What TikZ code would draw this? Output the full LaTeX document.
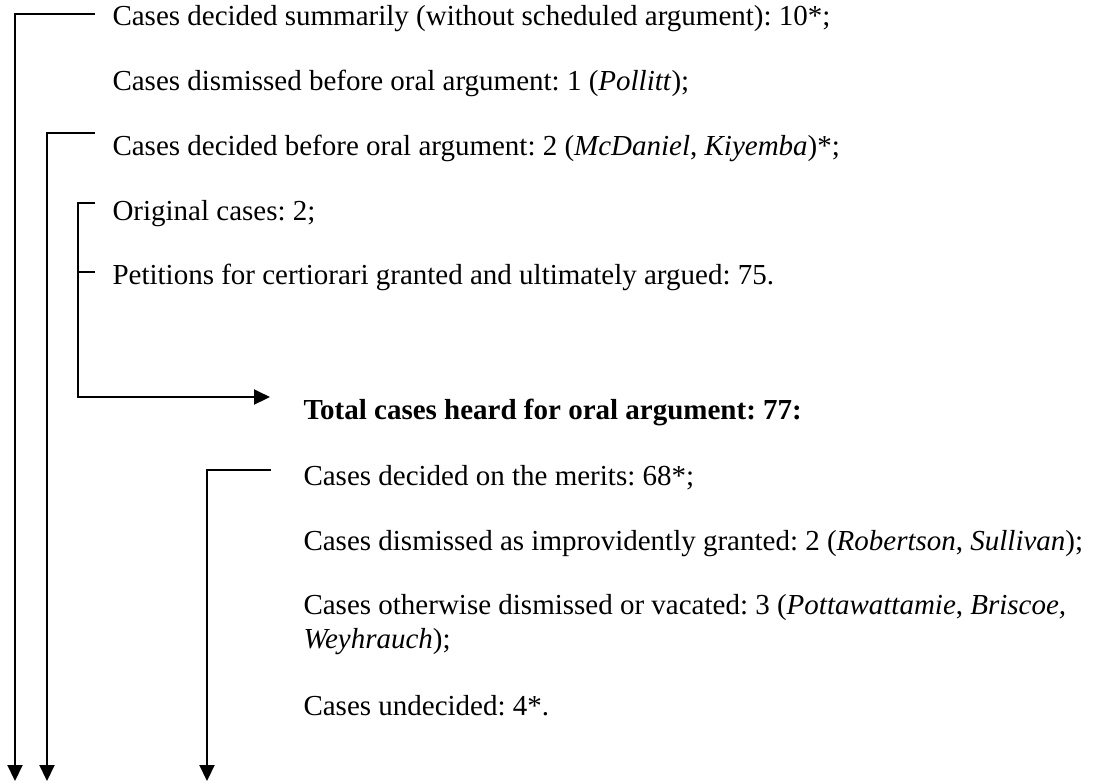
\documentclass[tikz,border=0pt]{standalone}
\usepackage{fontspec}
\setmainfont{Liberation Serif}
\usetikzlibrary{arrows.meta}
\frenchspacing
\tikzstyle{entry} = [anchor=base west, inner sep=0pt,
font=\fontsize{11.6}{13.6}\selectfont]
\tikzstyle{heading} = [entry, font=\fontsize{11.6}{13.6}\selectfont\bfseries]
\tikzstyle{link} = [line width=0.8pt]
\tikzstyle{flow} = [link, -{Triangle[length=6.4pt, width=6pt]}]

\begin{document}
\begin{tikzpicture}[x=0.4pt, y=-0.4pt]
	\useasboundingbox (0,0) rectangle (1098,783);
	% Cases that never reached oral argument, then the argued docket
	\node [entry] (summ) at (112,25) {Cases decided summarily (without scheduled argument): 10*;};
	\node [entry] (dism) at (112,90) {Cases dismissed before oral argument: 1 (\textit{Pollitt});};
	\node [entry] (befr) at (112,155) {Cases decided before oral argument: 2 (\textit{McDaniel}, \textit{Kiyemba})*;};
	\node [entry] (orig) at (112,220) {Original cases: 2;};
	\node [entry] (peti) at (112,284) {Petitions for certiorari granted and ultimately argued: 75.};
	% What became of the argued cases
	\node [heading] (total) at (303,419) {Total cases heard for oral argument: 77:};
	\node [entry] (meri) at (303,485) {Cases decided on the merits: 68*;};
	\node [entry] (impr) at (303,550) {Cases dismissed as improvidently granted: 2 (\textit{Robertson}, \textit{Sullivan});};
	\node [entry] (othr) at (303,614) {Cases otherwise dismissed or vacated: 3 (\textit{Pottawattamie}, \textit{Briscoe,}};
	\node [entry] (weyh) at (303,648) {\textit{Weyhrauch});};
	\node [entry] (unde) at (303,715) {Cases undecided: 4*.};

	% The arrows leave the page at the bottom
	\coordinate (foot1) at (15,781);
	\coordinate (foot2) at (47,781);
	\coordinate (foot3) at (207,781);
	\coordinate (knee) at (78,397);

	\draw [flow, shorten <=6.8pt] ([yshift=4.4pt]summ.base west) -| (foot1);
	\draw [flow, shorten <=6.8pt] ([yshift=8.8pt]befr.base west) -| (foot2);
	\draw [flow, shorten <=6.8pt, shorten >=13.2pt] ([yshift=7pt]orig.base west)
	-| (knee) -- (knee -| total.west);
	\coordinate (pt) at ([yshift=5pt]peti.base west);
	\draw [link, shorten <=6.8pt] (pt) -- (pt -| knee);
	\draw [flow, shorten <=12.8pt] ([yshift=6pt]meri.base west) -| (foot3);
\end{tikzpicture}
\end{document}
